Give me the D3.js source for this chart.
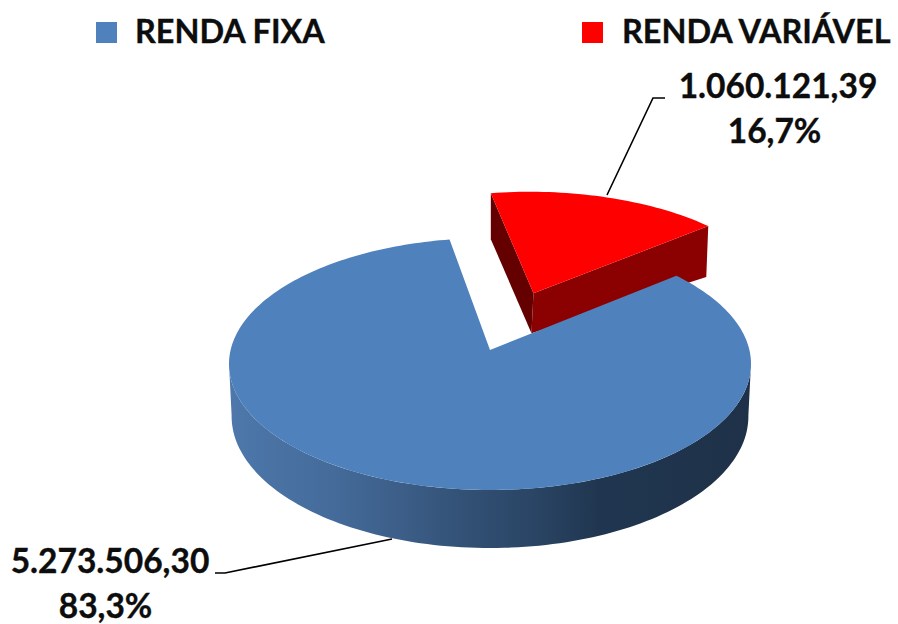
<!DOCTYPE html>
<html>
<head>
<meta charset="utf-8">
<script src="https://cdn.jsdelivr.net/npm/d3@7"></script>
<style>
  html, body { margin: 0; padding: 0; background: #fff; }
  text { font-family: Lato, "Open Sans", sans-serif; font-weight: 700; fill: #0d0d0d; stroke: #0d0d0d; stroke-width: 0.35px; }
</style>
</head>
<body>
<svg id="chart" width="898" height="624"></svg>
<script>
const categories = ["RENDA FIXA", "RENDA VARIÁVEL"];
const values = [5273506.30, 1060121.39];
const valueLabels = ["5.273.506,30", "1.060.121,39"];
const percentLabels = ["83,3%", "16,7%"];
const colors = ["#4f81bd", "#ff0000"];

const width = 898, height = 624;
const svg = d3.select("#chart").attr("width", width).attr("height", height);

// pie angles, clockwise from north. Red ends up around -10deg..50deg
const toRad = Math.PI / 180;
const pie = d3.pie().sort(null).value(d => d)
  .startAngle(50.3 * toRad)
  .endAngle(410.3 * toRad);
const slices = pie(values);
const blue = slices[0], red = slices[1];

// perspective projection of the unit disc (u right, v towards viewer)
const persp = -0.111;
const project = (u, v) => ({
  x: 490 + 259.4 * u / (1 + persp * v),
  y: (350 + 85.6 * v) / (1 + persp * v)
});
const polar = (a, off) => ({
  u: Math.sin(a) + (off ? off.u : 0),
  v: -Math.cos(a) + (off ? off.v : 0)
});
const topPt = p => { const s = project(p.u, p.v); return [s.x, s.y]; };

// blue side wall sits lower and a bit narrower
const blueBottom = p => {
  const s = project(p.u, p.v);
  return [490 + (s.x - 490) * 0.99, s.y + 51.6 / (1 + persp * p.v)];
};
// red wall depth, read from the three visible corners
const redBottom = p => {
  const s = project(p.u, p.v);
  return [s.x - (p.u > 0.1 ? 2 : 0), s.y + 35 + 8 * p.u - 7.5 * p.v];
};

const line = d3.line();
const arcAngles = (a0, a1, n) => d3.range(n + 1).map(i => a0 + (a1 - a0) * i / n);

// gradient for the blue side
const defs = svg.append("defs");
const grad = defs.append("linearGradient")
  .attr("id", "blueSide")
  .attr("gradientUnits", "userSpaceOnUse")
  .attr("x1", 229).attr("x2", 751).attr("y1", 0).attr("y2", 0);
[[0, "#4e78ab"], [0.2, "#446b9a"], [0.33, "#3c5e88"], [0.43, "#345378"],
 [0.58, "#2a4565"], [0.71, "#203650"], [1, "#1e3148"]].forEach(s => {
  grad.append("stop").attr("offset", s[0]).attr("stop-color", s[1]);
});

// blue wall, only the front part shows. Starts at the widest points of the ellipse
const wallAngles = arcAngles(96 * toRad, 264 * toRad, 120).map(a => polar(a));
svg.append("path")
  .attr("d", line(wallAngles.map(topPt).concat(wallAngles.slice().reverse().map(blueBottom))) + "Z")
  .attr("fill", "url(#blueSide)");

// red slice pulled out along its bisector
const redMid = (red.startAngle + red.endAngle) / 2;
const offset = { u: 0.512 * Math.sin(redMid), v: -0.512 * Math.cos(redMid) };
const redApex = { u: offset.u, v: offset.v };
const redStart = polar(red.startAngle, offset);
const redEnd = polar(red.endAngle, offset);

// left wall
svg.append("path")
  .attr("d", line([topPt(redStart), topPt(redApex), redBottom(redApex), redBottom(redStart)]) + "Z")
  .attr("fill", "#640000");
// front wall
svg.append("path")
  .attr("d", line([topPt(redApex), topPt(redEnd), redBottom(redEnd), redBottom(redApex)]) + "Z")
  .attr("fill", "#8b0000");
// red top
const redArc = arcAngles(red.startAngle, red.endAngle, 40).map(a => topPt(polar(a, offset)));
svg.append("path")
  .attr("d", line([topPt(redApex)].concat(redArc)) + "Z")
  .attr("fill", colors[1]);

// blue top goes over the red wall
const blueArc = arcAngles(blue.startAngle, blue.endAngle, 240).map(a => topPt(polar(a)));
svg.append("path")
  .attr("d", line([topPt({ u: 0, v: 0 })].concat(blueArc)) + "Z")
  .attr("fill", colors[0]);

// legend
const legendSquareX = [96, 582];
const legendTextX = [135, 622];
categories.forEach((c, i) => {
  svg.append("rect")
    .attr("x", legendSquareX[i]).attr("y", 22)
    .attr("width", 21).attr("height", 21)
    .attr("fill", colors[i]);
  svg.append("text")
    .attr("x", legendTextX[i]).attr("y", 43)
    .style("font-size", "32.4px")
    .text(c);
});

// leader lines
svg.append("path")
  .attr("d", line([[215, 573], [225, 573], [392, 539]]))
  .attr("fill", "none").attr("stroke", "#000").attr("stroke-width", 1.6);
svg.append("path")
  .attr("d", line([[607, 195], [653, 98], [665, 98]]))
  .attr("fill", "none").attr("stroke", "#000").attr("stroke-width", 1.6);

// data labels
const labelX = [110, 778];
const pctX = [105.5, 774.5];
const valueY = [573, 98];
const pctY = [618, 143];
categories.forEach((c, i) => {
  svg.append("text")
    .attr("x", labelX[i]).attr("y", valueY[i])
    .attr("text-anchor", "middle")
    .style("font-size", "33.5px")
    .text(valueLabels[i]);
  svg.append("text")
    .attr("x", pctX[i]).attr("y", pctY[i])
    .attr("text-anchor", "middle")
    .style("font-size", "33.5px")
    .text(percentLabels[i]);
});
</script>
</body>
</html>
